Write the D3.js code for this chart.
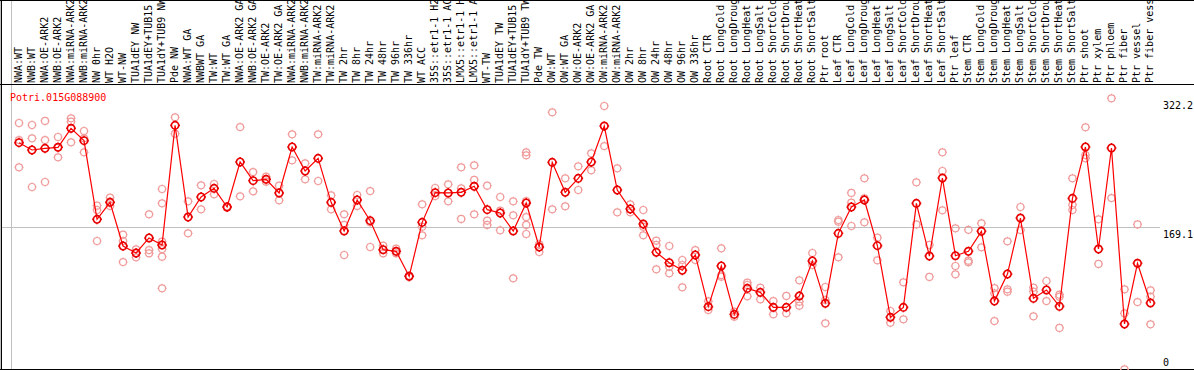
<!DOCTYPE html>
<html>
<head>
<meta charset="utf-8">
<script src="https://cdn.jsdelivr.net/npm/d3@7"></script>
<style>
  body { margin: 0; background: #fff; }
  svg { display: block; }
</style>
</head>
<body>
<div id="container"></div>
<script>
const width = 1194;
const height = 370;

const geneId = 'Potri.015G088900';

const conditions = [
  'NWA:WT', 'NWB:WT', 'NWA:OE-ARK2', 'NWB:OE-ARK2', 'NWA:miRNA-ARK2', 'NWB:miRNA-ARK2',
  'NW 0hr', 'WT H2O', 'WT-NW', 'TUA1dEY NW', 'TUA1dEY+TUB15 NW', 'TUA1dY+TUB9 NW', 'Pde NW',
  'NWA:WT GA', 'NWBWT GA', 'TW:WT', 'TW:WT GA', 'NWA:OE-ARK2 GA', 'NWB:OE-ARK2 GA',
  'TW:OE-ARK2', 'TW:OE-ARK2 GA', 'NWA:miRNA-ARK2 GA', 'NWB:miRNA-ARK2 GA', 'TW:miRNA-ARK2',
  'TW:miRNA-ARK2 GA', 'TW 2hr', 'TW 8hr', 'TW 24hr', 'TW 48hr', 'TW 96hr', 'TW 336hr', 'WT ACC',
  '35S::etr1-1 H2O', '35S::etr1-1 ACC', 'LMX5::etr1-1 H2O', 'LMX5::etr1-1 ACC', 'WT-TW',
  'TUA1dEY TW', 'TUA1dEY+TUB15 TW', 'TUA1dY+TUB9 TW', 'Pde TW',
  'OW:WT', 'OW:WT GA', 'OW:OE-ARK2', 'OW:OE-ARK2 GA', 'OW:miRNA-ARK2', 'OW:miRNA-ARK2 GA',
  'OW 2hr', 'OW 8hr', 'OW 24hr', 'OW 48hr', 'OW 96hr', 'OW 336hr',
  'Root CTR', 'Root LongCold', 'Root LongDrought', 'Root LongHeat', 'Root LongSalt',
  'Root ShortCold', 'Root ShortDrought', 'Root ShortHeat', 'Root ShortSalt', 'Ptr root',
  'Leaf CTR', 'Leaf LongCold', 'Leaf LongDrought', 'Leaf LongHeat', 'Leaf LongSalt',
  'Leaf ShortCold', 'Leaf ShortDrought', 'Leaf ShortHeat', 'Leaf ShortSalt', 'Ptr leaf',
  'Stem CTR', 'Stem LongCold', 'Stem LongDrought', 'Stem LongHeat', 'Stem LongSalt',
  'Stem ShortCold', 'Stem ShortDrought', 'Stem ShortHeat', 'Stem ShortSalt', 'Ptr shoot', 'Ptr xylem',
  'Ptr phloem', 'Ptr fiber', 'Ptr vessel', 'Ptr fiber vessel'
];

// columns per sample group, a grey rule is drawn after each group
const groupSizes = [13, 28, 12, 10, 10, 11, 1, 1, 1, 1];

const means = [
  269.3, 260.6, 262.6, 263.8, 286.3, 271.7, 178.5, 198.6, 146.9, 138.6, 156.4, 148.1, 289.8,
  181.2, 204.9, 215.2, 193.1, 246.4, 224.3, 225.9, 209.7, 264.2, 235.7, 250.7, 198.6, 164.7,
  201.4, 176.9, 142.5, 140.6, 111.0, 174.9, 210.1, 209.7, 210.5, 217.6, 189.9, 186.0, 164.7,
  197.8, 145.7,
  246.0, 210.5, 227.0, 246.4, 289.0, 213.2, 190.7, 172.9, 139.4, 127.1, 118.1, 136.2,
  75.0, 123.2, 65.9, 96.7, 92.0, 74.2, 74.2, 87.7, 129.1, 79.0,
  161.9, 193.1, 201.4, 147.3, 62.4, 74.2, 197.4, 135.0, 227.4, 135.4,
  140.6, 164.3, 81.7, 113.7, 180.0, 84.9, 94.8, 75.4, 203.3, 264.2, 143.3,
  263.0, 54.5, 126.4, 79.4
];

const replicates = [
  [292.6, 272.4, 240.1], [290.2, 274.4, 216.8], [295.0, 272.4, 222.7], [276.0, 263.8, 251.9],
  [298.1, 294.2, 269.7], [283.1, 274.4, 257.8], [194.7, 189.5, 152.8], [204.1, 199.4, 194.3],
  [160.3, 152.8, 127.9], [142.9, 138.2, 133.5], [184.4, 142.1, 138.2],
  [214.4, 197.4, 152.0, 143.3, 134.2, 96.7], [299.3, 280.0],
  [199.8, 161.9], [218.7, 190.3], [220.3, 208.1], [193.9, 192.3], [287.8, 205.7], [234.5, 211.6],
  [229.0, 223.1], [218.4, 201.0], [279.2, 248.4], [244.8, 225.9], [279.2, 223.9], [206.9, 190.3],
  [184.4, 171.8, 136.2], [207.3, 194.3], [212.0, 174.9, 145.7], [147.3, 138.2], [143.7, 138.2],
  [111.7, 110.2], [196.2, 169.8, 159.5], [215.6, 206.1], [219.9, 199.8], [240.1, 215.2, 178.9],
  [242.4, 225.1, 184.4], [218.4, 176.9, 171.8], [204.9, 188.7, 165.4], [199.8, 183.2, 108.6],
  [257.8, 254.3, 200.2, 181.2, 171.8, 161.1], [148.9, 139.8],
  [305.2, 190.3], [227.0, 193.9], [241.3, 213.2], [256.7, 236.5], [312.7, 265.3], [238.9, 186.8],
  [196.2, 186.8], [189.5, 169.8, 159.5], [153.2, 148.1, 119.2], [146.9, 122.4, 114.5],
  [130.3, 124.4, 97.9], [142.1, 130.3],
  [81.3, 71.1], [144.1, 112.5, 110.6], [69.1, 63.2], [103.5, 100.7, 87.3], [97.5, 83.7],
  [81.7, 65.9], [87.7, 67.1], [106.2, 80.9, 76.2], [138.6, 124.4], [98.3, 82.9, 55.3],
  [177.7, 175.7, 133.5], [209.7, 198.2, 170.6], [227.0, 203.3, 174.9], [156.8, 129.9],
  [69.9, 56.1], [103.8, 60.0], [222.3, 172.5], [148.1, 110.2], [257.8, 235.7, 189.1],
  [167.8, 123.2, 113.3],
  [166.0, 129.5, 127.5], [173.7, 145.3], [97.1, 90.8, 58.0], [152.4, 95.6, 92.8], [193.1, 165.8],
  [97.5, 92.8, 63.6], [105.4, 81.7], [89.2, 86.9, 49.8], [227.0, 195.5, 189.5],
  [287.5, 254.7, 250.7], [178.5, 125.6],
  [321.8, 203.7], [95.6, 67.1, 0.8], [172.5, 80.5], [94.4, 86.9, 54.1]
];

const yTicks = [0, 169.1, 322.2];

const plotLeft = 10.5, plotRight = 1155, headerBottom = 84.5, plotBottom = 370;
const fontFamily = "'DejaVu Sans Mono', monospace";

const xScale = d3.scaleBand().domain(conditions).range([plotLeft, plotRight]);
const yScale = d3.scaleLinear().domain([0, 322.2]).range([plotBottom, 98]);
const px = d => xScale(d) + 8.5;

const svg = d3.select('#container')
  .append('svg')
  .attr('width', width)
  .attr('height', height)
  .attr('font-family', fontFamily)
  .attr('font-size', 10);

// group separators
const bounds = [0].concat(d3.cumsum(groupSizes));
svg.append('g')
  .attr('stroke', '#c0c0c0')
  .attr('shape-rendering', 'crispEdges')
  .selectAll('line')
  .data(bounds)
  .join('line')
  .attr('x1', d => Math.round(plotLeft + d * xScale.step()) + 0.5)
  .attr('x2', d => Math.round(plotLeft + d * xScale.step()) + 0.5)
  .attr('y1', 0)
  .attr('y2', height);

// horizontal grid at the middle tick
svg.append('g')
  .attr('stroke', '#c0c0c0')
  .attr('shape-rendering', 'crispEdges')
  .selectAll('line')
  .data(yTicks.filter(v => v > 0 && v < 322.2))
  .join('line')
  .attr('x1', 1)
  .attr('x2', 1160)
  .attr('y1', d => Math.round(yScale(d)) + 0.5)
  .attr('y2', d => Math.round(yScale(d)) + 0.5);

// frame
svg.append('g')
  .attr('stroke', '#000')
  .attr('shape-rendering', 'crispEdges')
  .call(g => g.append('line').attr('x1', 1.5).attr('x2', 1.5).attr('y1', 0).attr('y2', height))
  .call(g => g.append('line').attr('x1', 0).attr('x2', width).attr('y1', 0.5).attr('y2', 0.5))
  .call(g => g.append('line').attr('x1', 0).attr('x2', width).attr('y1', headerBottom).attr('y2', headerBottom).attr('stroke-width', 1.5))
  .call(g => g.append('line').attr('x1', 0).attr('x2', width).attr('y1', 369.5).attr('y2', 369.5));

// rotated condition labels
svg.append('g')
  .selectAll('text')
  .data(conditions)
  .join('text')
  .attr('transform', d => `translate(${xScale(d) + 11},83) rotate(-90)`)
  .attr('fill', '#000')
  .text(d => d);

// right axis labels
svg.append('g')
  .selectAll('text')
  .data(yTicks)
  .join('text')
  .attr('x', 1163)
  .attr('y', d => Math.min(yScale(d) + 11, 366))
  .attr('fill', '#000')
  .text(d => d);

svg.append('text')
  .attr('x', 10)
  .attr('y', 100.5)
  .attr('fill', '#ff0000')
  .text(geneId);

function marker(r, s) {
  const p = d3.path();
  p.moveTo(r, 0);
  p.arc(0, 0, r, 0, 2 * Math.PI);
  p.moveTo(-r - s, 0); p.lineTo(-r, 0);
  p.moveTo(r, 0); p.lineTo(r + s, 0);
  p.moveTo(0, -r - s); p.lineTo(0, -r);
  p.moveTo(0, r); p.lineTo(0, r + s);
  return p.toString();
}

const repPoints = conditions.flatMap((c, i) => replicates[i].map(v => ({ c, v })));

svg.append('g')
  .selectAll('path')
  .data(repPoints)
  .join('path')
  .attr('d', marker(3.5, 1))
  .attr('transform', d => `translate(${px(d.c)},${yScale(d.v)})`)
  .attr('fill', 'none')
  .attr('stroke', '#f09a9a')
  .attr('stroke-width', 1.2);

const line = d3.line()
  .x((d, i) => px(conditions[i]))
  .y(d => yScale(d));

svg.append('path')
  .datum(means)
  .attr('d', line)
  .attr('fill', 'none')
  .attr('stroke', '#ff0000')
  .attr('stroke-width', 1.2);

svg.append('g')
  .selectAll('path')
  .data(means)
  .join('path')
  .attr('d', marker(3.7, 1.2))
  .attr('transform', (d, i) => `translate(${px(conditions[i])},${yScale(d)})`)
  .attr('fill', 'none')
  .attr('stroke', '#e80000')
  .attr('stroke-width', 1.6);
</script>
</body>
</html>
